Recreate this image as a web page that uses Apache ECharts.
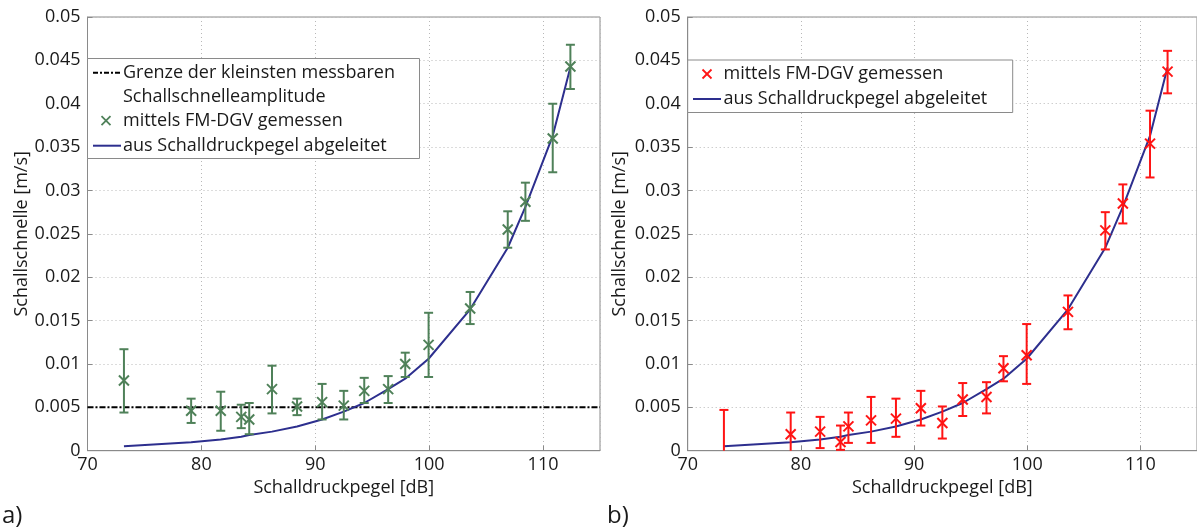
<!DOCTYPE html>
<html>
<head>
<meta charset="utf-8">
<script src="https://cdn.jsdelivr.net/npm/echarts@6/dist/echarts.min.js"></script>
<style>
html,body{margin:0;padding:0;background:#fff;}
#chart{width:1197px;height:532px;}
</style>
</head>
<body>
<div id="chart"></div>
<script>
// ---- data ----
const spl = [73.2, 79.1, 81.7, 83.5, 84.2, 86.2, 88.4, 90.6, 92.5, 94.3, 96.4, 97.9, 99.95, 103.6, 106.9, 108.45, 110.85, 112.4];

// a) measured with FM-DGV
const measA = [0.0081, 0.0046, 0.0046, 0.0039, 0.0036, 0.0071, 0.0051, 0.0056, 0.0052, 0.0069, 0.0071, 0.0100, 0.0122, 0.0164, 0.0255, 0.0287, 0.0360, 0.0443];
const lowA  = [0.0044, 0.0032, 0.0023, 0.0026, 0.0019, 0.0043, 0.0041, 0.0036, 0.0036, 0.0055, 0.0055, 0.0085, 0.0085, 0.0146, 0.0234, 0.0265, 0.0321, 0.0417];
const highA = [0.0117, 0.0060, 0.0068, 0.0053, 0.0055, 0.0098, 0.0060, 0.0077, 0.0069, 0.0084, 0.0086, 0.0113, 0.0159, 0.0183, 0.0276, 0.0309, 0.0400, 0.0468];

// b) measured with FM-DGV
const measB = [-0.0010, 0.0019, 0.0022, 0.0010, 0.0028, 0.0035, 0.0037, 0.0049, 0.0032, 0.0059, 0.0062, 0.0095, 0.0110, 0.0160, 0.0254, 0.0285, 0.0354, 0.0437];
const lowB  = [-0.0067, -0.0001, 0.0003, 0.0001, 0.0009, 0.0009, 0.0016, 0.0029, 0.0014, 0.0040, 0.0043, 0.0080, 0.0077, 0.0140, 0.0232, 0.0262, 0.0315, 0.0412];
const highB = [0.0047, 0.0044, 0.0039, 0.0029, 0.0044, 0.0062, 0.0060, 0.0069, 0.0051, 0.0078, 0.0079, 0.0109, 0.0146, 0.0179, 0.0275, 0.0307, 0.0392, 0.0461];

// derived from sound pressure level
const derived = [0.0005, 0.00097, 0.0013, 0.0016, 0.0018, 0.0022, 0.0028, 0.0036, 0.0045, 0.0055, 0.0071, 0.0083, 0.0106, 0.0163, 0.0234, 0.0281, 0.0363, 0.0442];

// smallest measurable amplitude
const limit = 0.005;

// axes
const xMin = 70, xMax = 115, xStep = 10;
const yMin = 0, yMax = 0.05, yStep = 0.005;

const labels = {
  x: 'Schalldruckpegel [dB]',
  y: 'Schallschnelle [m/s]',
  limit1: 'Grenze der kleinsten messbaren',
  limit2: 'Schallschnelleamplitude',
  meas: 'mittels FM-DGV gemessen',
  der: 'aus Schalldruckpegel abgeleitet',
  a: 'a)', b: 'b)'
};

// ---- styling ----
const FONT = 'Open Sans';
const GREEN = '#4f8159';
const RED = '#ff1414';
const BLUE = '#2d2f8e';
const FRAME = '#8a8a8a';

function errData(v, lo, hi) {
  return spl.map((x, i) => [x, v[i], lo[i], hi[i]]);
}
function lineData(v) { return spl.map((x, i) => [x, v[i]]); }

function makeErrRender(color) {
  return function (params, api) {
    const cs = params.coordSys;
    const yTop = cs.y, yBot = cs.y + cs.height;
    const x = api.value(0);
    const c = api.coord([x, api.value(1)]);
    const t = api.coord([x, api.value(3)]);
    const b = api.coord([x, api.value(2)]);
    const px = c[0];
    const clamp = y => Math.max(yTop, Math.min(yBot, y));
    const st = { stroke: color, lineWidth: 2, fill: null };
    const ch = [];
    ch.push({ type: 'line', shape: { x1: px, y1: clamp(t[1]), x2: px, y2: clamp(b[1]) }, style: st });
    const cw = 4.5;
    if (t[1] >= yTop && t[1] <= yBot) ch.push({ type: 'line', shape: { x1: px - cw, y1: t[1], x2: px + cw, y2: t[1] }, style: st });
    if (b[1] >= yTop && b[1] <= yBot) ch.push({ type: 'line', shape: { x1: px - cw, y1: b[1], x2: px + cw, y2: b[1] }, style: st });
    if (c[1] >= yTop && c[1] <= yBot) {
      const s = 5;
      ch.push({ type: 'line', shape: { x1: px - s, y1: c[1] - s, x2: px + s, y2: c[1] + s }, style: st });
      ch.push({ type: 'line', shape: { x1: px - s, y1: c[1] + s, x2: px + s, y2: c[1] - s }, style: st });
    }
    return { type: 'group', children: ch };
  };
}

function xAxisCfg(gi) {
  return {
    type: 'value', gridIndex: gi, min: xMin, max: xMax, interval: xStep,
    name: labels.x, nameLocation: 'middle', nameGap: 26,
    nameTextStyle: { fontFamily: FONT, fontSize: 18, color: '#1a1a1a' },
    axisLine: { show: true, lineStyle: { color: FRAME, width: 1 } },
    axisTick: { show: true, inside: true, length: 5, lineStyle: { color: FRAME } },
    axisLabel: { fontFamily: FONT, fontSize: 18, color: '#1a1a1a', margin: 5, showMaxLabel: false },
    splitLine: { show: true, lineStyle: { color: '#b8b8b8', type: [1, 3], width: 1 } }
  };
}
function yAxisCfg(gi, gap) {
  return {
    type: 'value', gridIndex: gi, min: yMin, max: yMax, interval: yStep,
    name: labels.y, nameLocation: 'middle', nameGap: gap,
    nameTextStyle: { fontFamily: FONT, fontSize: 18, color: '#1a1a1a' },
    axisLine: { show: true, lineStyle: { color: FRAME, width: 1 } },
    axisTick: { show: true, inside: true, length: 5, lineStyle: { color: FRAME } },
    axisLabel: { fontFamily: FONT, fontSize: 18, color: '#1a1a1a', margin: 7,
      formatter: v => String(parseFloat(v.toFixed(4))) },
    splitLine: { show: true, lineStyle: { color: '#b8b8b8', type: [1, 3], width: 1 } }
  };
}

function txt(x, y, s, size) {
  return { type: 'text', x: x, y: y, z: 100,
    style: { text: s, fontFamily: FONT, fontSize: size || 18, fill: '#1a1a1a', textVerticalAlign: 'middle', textAlign: 'left' } };
}
function cross(cx, cy, color) {
  const s = 4.5;
  return [
    { type: 'line', z: 100, shape: { x1: cx - s, y1: cy - s, x2: cx + s, y2: cy + s }, style: { stroke: color, lineWidth: 1.8 } },
    { type: 'line', z: 100, shape: { x1: cx - s, y1: cy + s, x2: cx + s, y2: cy - s }, style: { stroke: color, lineWidth: 1.8 } }
  ];
}

const graphic = [
  // legend a)
  { type: 'rect', z: 99, shape: { x: 87.5, y: 58.5, width: 332, height: 100 }, style: { fill: '#fff', stroke: FRAME, lineWidth: 1 } },
  { type: 'line', z: 100, shape: { x1: 93, y1: 72.7, x2: 121, y2: 72.7 }, style: { stroke: '#000', lineWidth: 2, lineDash: [5, 2, 2, 2] } },
  txt(123, 72.7, labels.limit1),
  txt(123, 96.7, labels.limit2),
  ...cross(106, 120.7, GREEN),
  txt(123, 120.7, labels.meas),
  { type: 'line', z: 100, shape: { x1: 93, y1: 145.7, x2: 121, y2: 145.7 }, style: { stroke: BLUE, lineWidth: 2 } },
  txt(123, 145.7, labels.der),
  // legend b)
  { type: 'rect', z: 99, shape: { x: 687.7, y: 60, width: 325, height: 52.5 }, style: { fill: '#fff', stroke: FRAME, lineWidth: 1 } },
  ...cross(707, 74, RED),
  txt(723.5, 74, labels.meas),
  { type: 'line', z: 100, shape: { x1: 693, y1: 99, x2: 721, y2: 99 }, style: { stroke: BLUE, lineWidth: 2 } },
  txt(723.5, 99, labels.der),
  // panel letters
  txt(2, 516, labels.a, 24),
  txt(607, 516, labels.b, 24)
];

const chart = echarts.init(document.getElementById('chart'), null, { renderer: 'canvas' });
chart.setOption({
  animation: false,
  backgroundColor: '#fff',
  grid: [
    { left: 87.5, top: 17, width: 512.5, height: 433.7, show: true, borderColor: FRAME, borderWidth: 1, backgroundColor: 'transparent' },
    { left: 687.7, top: 17, width: 513, height: 433.7, show: true, borderColor: FRAME, borderWidth: 1, backgroundColor: 'transparent' }
  ],
  xAxis: [xAxisCfg(0), xAxisCfg(1)],
  yAxis: [yAxisCfg(0, 57), yAxisCfg(1, 59)],
  graphic: graphic,
  series: [
    {
      type: 'line', xAxisIndex: 0, yAxisIndex: 0, data: [[xMin, limit], [xMax, limit]],
      symbol: 'none', lineStyle: { color: '#000', width: 2, type: [6, 2, 2, 2] }, z: 2
    },
    {
      type: 'line', xAxisIndex: 0, yAxisIndex: 0, data: lineData(derived),
      symbol: 'none', lineStyle: { color: BLUE, width: 2 }, z: 3
    },
    {
      type: 'custom', xAxisIndex: 0, yAxisIndex: 0, data: errData(measA, lowA, highA),
      renderItem: makeErrRender(GREEN), z: 4
    },
    {
      type: 'line', xAxisIndex: 1, yAxisIndex: 1, data: lineData(derived),
      symbol: 'none', lineStyle: { color: BLUE, width: 2 }, z: 3
    },
    {
      type: 'custom', xAxisIndex: 1, yAxisIndex: 1, data: errData(measB, lowB, highB),
      renderItem: makeErrRender(RED), z: 4
    }
  ]
});
</script>
</body>
</html>
